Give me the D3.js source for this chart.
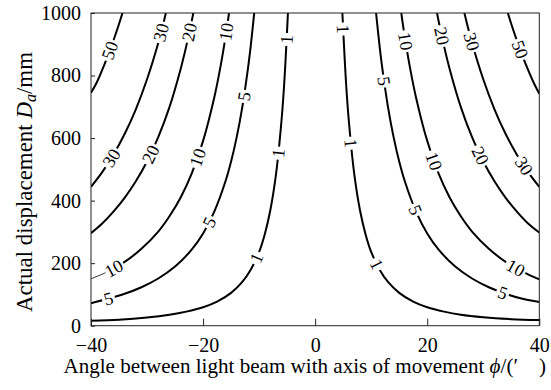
<!DOCTYPE html>
<html>
<head>
<meta charset="utf-8">
<script src="https://cdn.jsdelivr.net/npm/d3@7"></script>
<style>
  body { margin: 0; background: #fff; }
  svg { display: block; }
  svg text { font-family: "Liberation Serif", "Times New Roman", serif; }
</style>
</head>
<body>
<div id="chart"></div>
<script>
// axis ticks: angle in arc minutes, displacement in mm
const phiTicks = [-40, -20, 0, 20, 40];
const dispTicks = [0, 200, 400, 600, 800, 1000];

// contour lines, [phi, D]
const err1Left = [[-4.86,1000],[-5.05,930],[-5.5,780],[-6,657],[-7,482],[-8,369],[-9,292],[-10,236],[-11.5,179],[-13,140],[-15,105],[-17.5,77],[-20,59],[-23,45],[-26,35],[-30,26],[-35,19],[-40,16]];
const err1Right = [[4.86,1000],[5.05,930],[5.5,780],[6,657],[7,482],[8,369],[9,292],[10,236],[11.5,179],[13,140],[15,105],[17.5,77],[20,59],[23,45],[26,35],[30,27],[35,21],[40,18]];
const err5Left = [[-10.87,1000],[-11.5,894],[-12,821],[-13,699],[-14,603],[-15,525],[-16,462],[-18,365],[-20,295],[-22,244],[-25,189],[-28,151],[-31,123],[-34,102],[-37,86],[-40,72]];
const err5Right = [[10.87,1000],[11.5,894],[12,821],[13,699],[14,603],[15,525],[16,462],[18,365],[20,295],[22,244],[25,189],[28,151],[31,123],[34,102],[37,86],[40,76]];
const err10Left = [[-15.37,1000],[-16,923],[-17,818],[-18,730],[-20,591],[-22,488],[-24,410],[-26,350],[-28,301],[-31,246],[-34,204],[-37,173],[-40,150]];
const err10Right = [[15.37,1000],[16,923],[17,818],[18,730],[20,591],[22,488],[24,410],[26,350],[28,301],[31,246],[34,204],[37,173],[40,148]];
const err20Left = [[-21.74,1000],[-22,977],[-23,894],[-24,821],[-26,699],[-28,603],[-30,525],[-32,462],[-34,409],[-36,365],[-38,327],[-40,296]];
const err20Right = [[21.74,1000],[22,977],[23,894],[24,821],[26,699],[28,603],[30,525],[32,462],[34,409],[36,365],[38,327],[40,298]];
const err30Left = [[-26.63,1000],[-27,973],[-28,904],[-30,788],[-32,692],[-34,613],[-36,547],[-38,491],[-40,444]];
const err30Right = [[26.63,1000],[27,973],[28,904],[30,788],[32,692],[34,613],[36,547],[38,491],[40,444]];
const err50Left = [[-34.38,1000],[-35,965],[-36,912],[-37,863],[-38,818],[-39,777],[-40,745]];
const err50Right = [[34.38,1000],[35,965],[36,912],[37,863],[38,818],[39,777],[40,742]];

// contour labels: [level, phi, D]
const contourLabels = [
  [50,-36.9,882],[30,-27.5,938],[30,-37.2,546],[20,-22.8,940],[20,-28.6,541],
  [10,-16.1,940],[10,-21.4,541],[10,-36.0,184],[5,-12.5,733],[5,-19.1,333],[5,-36.9,86],
  [1,-5.1,915],[1,-6.3,551],[1,-10.5,216],
  [1,5.05,949],[1,5.95,583],[1,10.7,194],[5,11.3,780],[5,17.25,365],[5,33.3,98],
  [10,15.5,908],[10,20.8,524],[10,35.4,173],[20,22.1,924],[20,29.1,540],
  [30,27.8,908],[30,37.1,509],[50,36.3,882]
];
// part of a contour drawn with a thin pen: [level, phiFrom, phiTo]
const thinLeads = [[10, -40, -37.4]];

const branches = [
  [1, err1Left], [1, err1Right], [5, err5Left], [5, err5Right],
  [10, err10Left], [10, err10Right], [20, err20Left], [20, err20Right],
  [30, err30Left], [30, err30Right], [50, err50Left], [50, err50Right]
];

const width = 551, height = 390;
const margin = { top: 13, right: 11.7, bottom: 64.3, left: 91 };
const serif = "\"Liberation Serif\", \"Times New Roman\", serif";

const svg = d3.select("#chart").append("svg")
  .attr("width", width).attr("height", height);

const x = d3.scaleLinear().domain([-40, 40]).range([margin.left, width - margin.right]);
const y = d3.scaleLinear().domain([0, 1000]).range([height - margin.bottom, margin.top]);

const defs = svg.append("defs");
defs.append("clipPath").attr("id", "plotClip")
  .append("rect")
  .attr("x", x(-40)).attr("y", y(1000))
  .attr("width", x(40) - x(-40)).attr("height", y(0) - y(1000));

const mask = defs.append("mask").attr("id", "gaps").attr("maskUnits", "userSpaceOnUse")
  .attr("x", 0).attr("y", 0).attr("width", width).attr("height", height);
mask.append("rect").attr("width", width).attr("height", height).attr("fill", "#fff");

const line = d3.line()
  .x(d => x(d[0])).y(d => y(d[1]))
  .curve(d3.curveCatmullRom.alpha(0.5));

const contourG = svg.append("g")
  .attr("clip-path", "url(#plotClip)")
  .append("g")
  .attr("mask", "url(#gaps)");

const paths = contourG.selectAll("path")
  .data(branches)
  .join("path")
  .attr("d", d => line(d[1]))
  .attr("fill", "none")
  .attr("stroke", "#000")
  .attr("stroke-width", 2);

function findBranch(level, phi) {
  const i = branches.findIndex(b => b[0] === level && Math.sign(b[1][0][0]) === Math.sign(phi));
  return paths.nodes()[i];
}

function nearest(node, px, py) {
  const L = node.getTotalLength();
  let best = 0, bd = Infinity;
  for (let l = 0; l <= L; l += 0.5) {
    const p = node.getPointAtLength(l);
    const dd = (p.x - px) ** 2 + (p.y - py) ** 2;
    if (dd < bd) { bd = dd; best = l; }
  }
  const a = node.getPointAtLength(Math.max(0, best - 3));
  const b = node.getPointAtLength(Math.min(L, best + 3));
  const p = node.getPointAtLength(best);
  let ang = Math.atan2(b.y - a.y, b.x - a.x) * 180 / Math.PI;
  if (ang > 90) ang -= 180;
  if (ang < -90) ang += 180;
  return { x: p.x, y: p.y, ang };
}

// contour labels with gaps cut into the lines
const labelG = svg.append("g")
  .attr("text-anchor", "middle")
  .style("font-family", serif)
  .style("font-size", "18px");

contourLabels.forEach(([level, phi, d]) => {
  const node = findBranch(level, phi);
  const p = nearest(node, x(phi), y(d));
  const tf = `translate(${p.x},${p.y}) rotate(${p.ang})`;
  const t = labelG.append("text")
    .attr("transform", tf)
    .attr("dy", "0.34em")
    .text(level);
  const w = t.node().getComputedTextLength();
  mask.append("rect")
    .attr("transform", tf)
    .attr("x", -w / 2 - 2).attr("y", -6)
    .attr("width", w + 4).attr("height", 12)
    .attr("fill", "#000");
});

// thin leads
thinLeads.forEach(([level, p0, p1], k) => {
  const node = findBranch(level, p0);
  const x0 = x(p0), x1 = x(p1);
  const L = node.getTotalLength();
  let ys = [];
  for (let l = 0; l <= L; l += 0.5) {
    const p = node.getPointAtLength(l);
    if (p.x >= x0 - 1 && p.x <= x1) ys.push(p.y);
  }
  mask.append("rect")
    .attr("x", x0 - 2).attr("y", d3.min(ys) - 4)
    .attr("width", x1 - x0 + 2).attr("height", d3.max(ys) - d3.min(ys) + 8)
    .attr("fill", "#000");
  defs.append("clipPath").attr("id", "lead" + k)
    .append("rect").attr("x", x0).attr("y", 0)
    .attr("width", x1 - x0).attr("height", height);
  svg.append("path")
    .attr("d", node.getAttribute("d"))
    .attr("clip-path", `url(#lead${k})`)
    .attr("fill", "none")
    .attr("stroke", "#000")
    .attr("stroke-width", 0.8);
});

// axes
const tickFmt = d => (d < 0 ? "\u2212" + (-d) : "" + d);
const xAxis = svg.append("g")
  .attr("transform", `translate(0,${y(0)})`)
  .call(d3.axisBottom(x).tickValues(phiTicks).tickFormat(tickFmt)
    .tickSizeInner(-7).tickSizeOuter(0).tickPadding(12));
const yAxis = svg.append("g")
  .attr("transform", `translate(${x(-40)},0)`)
  .call(d3.axisLeft(y).tickValues(dispTicks).tickFormat(tickFmt)
    .tickSizeInner(-4).tickSizeOuter(0).tickPadding(10));

[xAxis, yAxis].forEach(a => {
  a.attr("font-family", null).attr("font-size", null);
  a.select(".domain").remove();
  a.selectAll("line").attr("stroke", "#222");
  a.selectAll("text")
    .style("font-family", serif)
    .style("font-size", "20px")
    .attr("fill", "#000");
});

svg.append("rect")
  .attr("x", x(-40)).attr("y", y(1000))
  .attr("width", x(40) - x(-40)).attr("height", y(0) - y(1000))
  .attr("fill", "none")
  .attr("stroke", "#222")
  .attr("stroke-width", 1);

// axis titles
function fitText(t, target) {
  const w = t.node().getComputedTextLength();
  t.style("font-size", (19 * target / w) + "px");
}

const xTitle = svg.append("text")
  .attr("x", 304.8).attr("y", 373)
  .attr("text-anchor", "middle")
  .style("font-family", serif)
  .style("font-size", "19px");
xTitle.append("tspan").text("Angle between light beam with axis of movement ");
xTitle.append("tspan").attr("font-style", "italic").text("\u03D5");
xTitle.append("tspan").text("/(\u2032\u2003)");
fitText(xTitle, 483);

const yTitle = svg.append("text")
  .attr("transform", "translate(31.5,182) rotate(-90)")
  .attr("text-anchor", "middle")
  .style("font-family", serif)
  .style("font-size", "19px");
yTitle.append("tspan").text("Actual displacement ");
yTitle.append("tspan").attr("font-style", "italic").text("D");
yTitle.append("tspan").attr("font-style", "italic").attr("font-size", "0.7em").attr("dy", "0.3em").text("a");
yTitle.append("tspan").attr("dy", "-0.21em").text("/mm");
fitText(yTitle, 260);
</script>
</body>
</html>
